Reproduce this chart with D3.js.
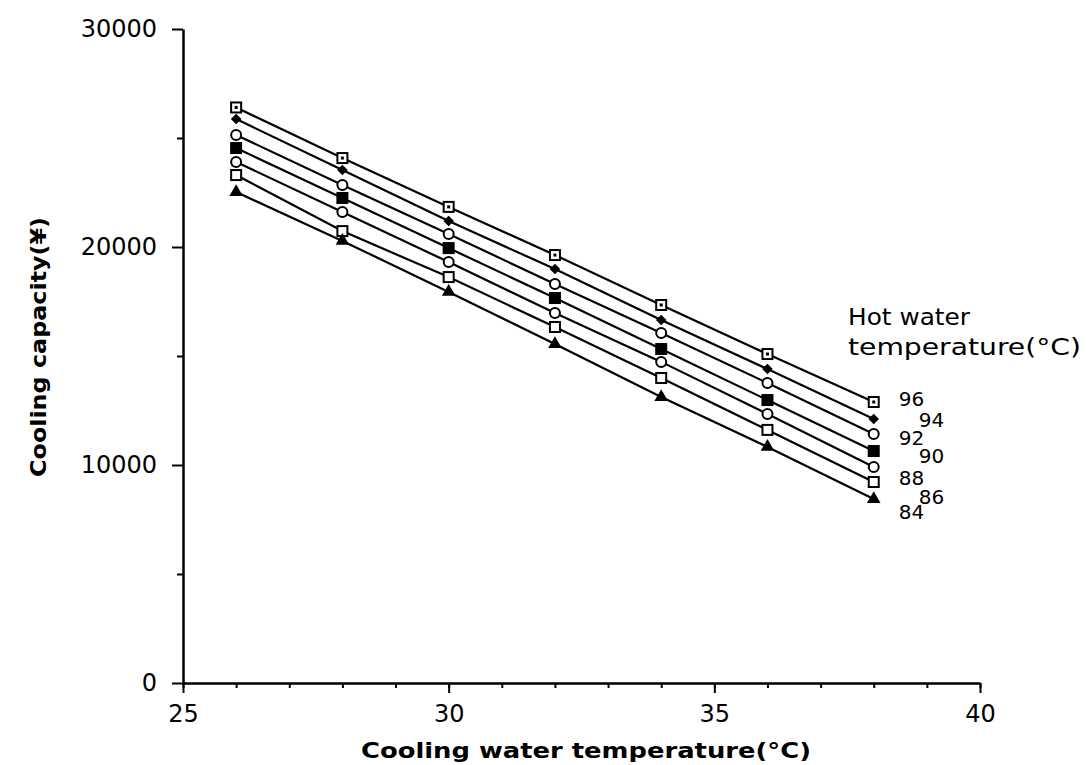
<!DOCTYPE html>
<html>
<head>
<meta charset="utf-8">
<script src="https://cdn.jsdelivr.net/npm/d3@7"></script>
<style>
  body { margin: 0; background: #fff; }
  svg { display: block; }
  text { font-family: "DejaVu Sans", sans-serif; fill: #000; }
</style>
</head>
<body>
<svg id="chart" width="1086" height="765"></svg>
<script>
// cooling water temperature (x) and hot water temperature series
const coolingTemps = [26, 28, 30, 32, 34, 36, 38]
const hotTemps = ['96', '94', '92', '90', '88', '86', '84']

// cooling capacity readings per hot water temperature
const cap96 = [26400, 24080, 21840, 19630, 17340, 15090, 12890]
const cap94 = [25870, 23530, 21190, 18990, 16650, 14400, 12110]
const cap92 = [25140, 22840, 20600, 18300, 16060, 13760, 11420]
const cap90 = [24540, 22250, 19950, 17660, 15320, 12980, 10640]
const cap88 = [23900, 21610, 19310, 16970, 14730, 12340, 9910]
const cap86 = [23300, 20730, 18620, 16330, 13990, 11610, 9220]
const cap84 = [22520, 20280, 17940, 15550, 13120, 10830, 8440]

const xMajorTicks = [25, 30, 35, 40]
const yMajorTicks = [0, 10000, 20000, 30000]
const yMinorTicks = [5000, 15000, 25000]

const capacities = [cap96, cap94, cap92, cap90, cap88, cap86, cap84]
const markers = ['dotsquare', 'diamond', 'circle', 'fillsquare', 'circle', 'square', 'triangle']
// label nudges next to the last point
const labelDx = [25, 45, 25, 45, 25, 45, 25]
const labelDy = [4, 8, 11, 12, 18, 22, 20]

const svg = d3.select('#chart')

const x = d3.scaleLinear().domain([25, 40]).range([183, 980])
const y = d3.scaleLinear().domain([0, 30000]).range([683, 29])

// x axis: minor ticks every degree, major every 5
svg.append('g')
  .attr('transform', 'translate(0,683)')
  .call(d3.axisBottom(x).tickValues(d3.range(25, 41, 1)).tickSize(5).tickSizeOuter(0).tickFormat(''))
  .call(g => g.select('.domain').remove())
  .call(g => g.selectAll('line').attr('stroke', '#000').attr('stroke-width', 2))

svg.append('g')
  .attr('transform', 'translate(0,683)')
  .call(d3.axisBottom(x).tickValues(xMajorTicks).tickSize(10).tickSizeOuter(0).tickPadding(12).tickFormat(d3.format('d')))
  .call(g => g.select('.domain').attr('stroke', '#000').attr('stroke-width', 2.5))
  .call(g => g.selectAll('line').attr('stroke', '#000').attr('stroke-width', 2))
  .call(g => g.selectAll('text').attr('font-size', 24).attr('font-family', '"DejaVu Sans", sans-serif').attr('fill', '#000'))

// y axis
svg.append('g')
  .attr('transform', 'translate(183,0)')
  .call(d3.axisLeft(y).tickValues(yMinorTicks).tickSize(6).tickSizeOuter(0).tickFormat(''))
  .call(g => g.select('.domain').remove())
  .call(g => g.selectAll('line').attr('stroke', '#000').attr('stroke-width', 2))

svg.append('g')
  .attr('transform', 'translate(183,0)')
  .call(d3.axisLeft(y).tickValues(yMajorTicks).tickSize(11).tickSizeOuter(0).tickPadding(15).tickFormat(d3.format('d')))
  .call(g => g.select('.domain').attr('stroke', '#000').attr('stroke-width', 2.5))
  .call(g => g.selectAll('line').attr('stroke', '#000').attr('stroke-width', 2))
  .call(g => g.selectAll('text').attr('font-size', 24).attr('font-family', '"DejaVu Sans", sans-serif').attr('fill', '#000'))

// axis titles
svg.append('text')
  .attr('x', 586).attr('y', 758)
  .attr('text-anchor', 'middle')
  .attr('font-size', 21).attr('font-weight', 'bold')
  .attr('textLength', 450).attr('lengthAdjust', 'spacingAndGlyphs')
  .text('Cooling water temperature(°C)')

svg.append('text')
  .attr('transform', 'translate(46,347) rotate(-90)')
  .attr('text-anchor', 'middle')
  .attr('font-size', 21).attr('font-weight', 'bold')
  .attr('textLength', 260).attr('lengthAdjust', 'spacingAndGlyphs')
  .text('Cooling capacity(¥)')

// lines
const line = d3.line()
  .x((d, i) => x(coolingTemps[i]))
  .y(d => y(d))

svg.append('g')
  .selectAll('path')
  .data(capacities)
  .join('path')
  .attr('d', d => line(d))
  .attr('fill', 'none')
  .attr('stroke', '#000')
  .attr('stroke-width', 2.2)

// markers
function drawMarker(g, kind) {
  if (kind === 'dotsquare') {
    g.append('rect').attr('x', -5).attr('y', -5).attr('width', 10).attr('height', 10)
      .attr('fill', '#fff').attr('stroke', '#000').attr('stroke-width', 2)
    g.append('rect').attr('x', -1.5).attr('y', -1.5).attr('width', 3).attr('height', 3).attr('fill', '#000')
  } else if (kind === 'square') {
    g.append('rect').attr('x', -5).attr('y', -5).attr('width', 10).attr('height', 10)
      .attr('fill', '#fff').attr('stroke', '#000').attr('stroke-width', 2)
  } else if (kind === 'fillsquare') {
    g.append('rect').attr('x', -6).attr('y', -6).attr('width', 12).attr('height', 12).attr('fill', '#000')
  } else if (kind === 'circle') {
    g.append('circle').attr('r', 5).attr('fill', '#fff').attr('stroke', '#000').attr('stroke-width', 2)
  } else if (kind === 'diamond') {
    g.append('path').attr('d', d3.symbol(d3.symbolSquare, 56)()).attr('transform', 'rotate(45)').attr('fill', '#000')
  } else if (kind === 'triangle') {
    g.append('path').attr('d', d3.symbol(d3.symbolTriangle, 80)()).attr('fill', '#000')
  }
}

capacities.forEach((series, si) => {
  series.forEach((v, i) => {
    const g = svg.append('g').attr('transform', `translate(${x(coolingTemps[i])},${y(v)})`)
    drawMarker(g, markers[si])
  })
  const last = series[series.length - 1]
  svg.append('text')
    .attr('x', x(coolingTemps[coolingTemps.length - 1]) + labelDx[si])
    .attr('y', y(last) + labelDy[si])
    .attr('font-size', 20)
    .text(hotTemps[si])
})

// legend title
svg.append('text')
  .attr('x', 848).attr('y', 325)
  .attr('font-size', 23)
  .attr('textLength', 122).attr('lengthAdjust', 'spacingAndGlyphs')
  .text('Hot water')
svg.append('text')
  .attr('x', 848).attr('y', 355)
  .attr('font-size', 23)
  .attr('textLength', 233).attr('lengthAdjust', 'spacingAndGlyphs')
  .text('temperature(°C)')
</script>
</body>
</html>
